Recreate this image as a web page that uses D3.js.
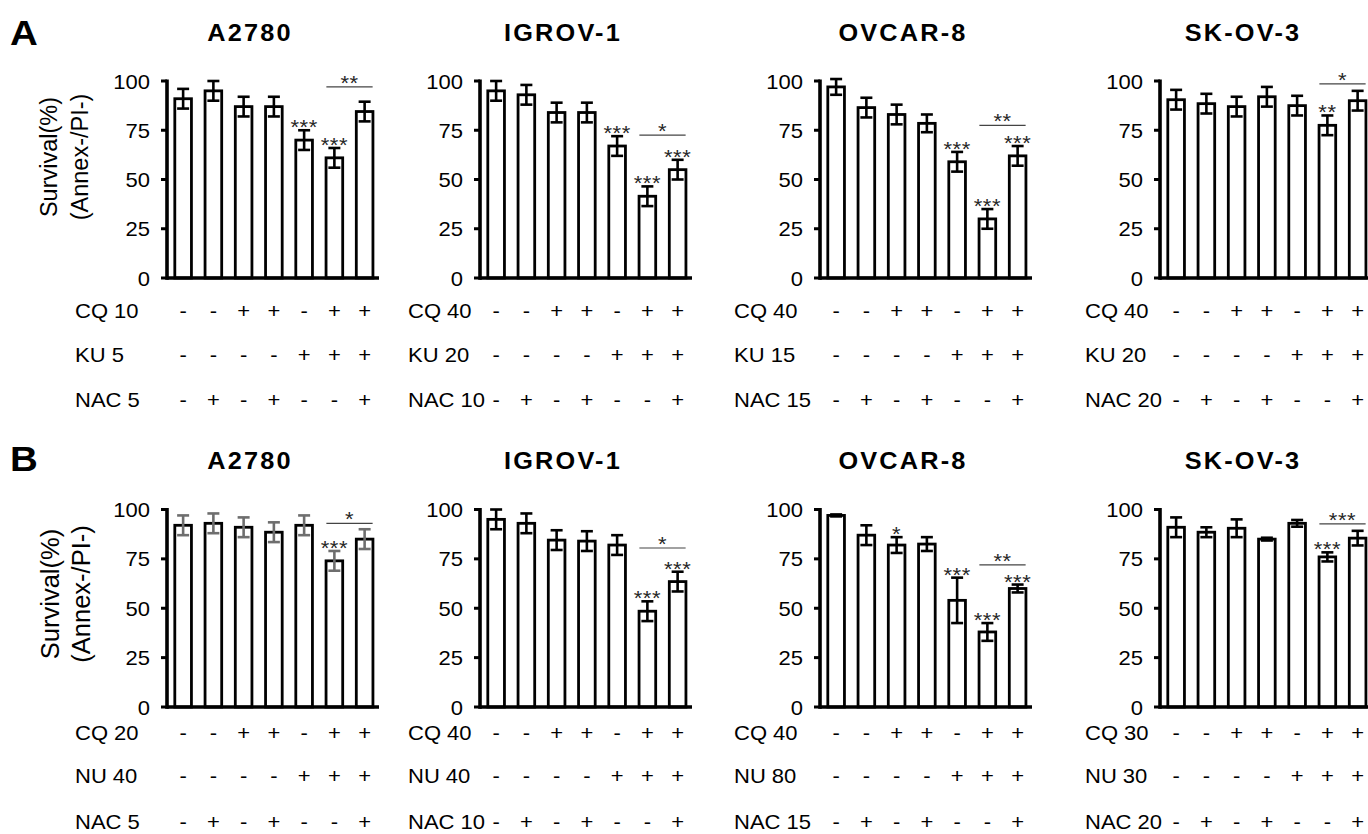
<!DOCTYPE html>
<html>
<head>
<meta charset="utf-8">
<script src="https://cdn.jsdelivr.net/npm/d3@7"></script>
<style>
  html, body { margin: 0; padding: 0; background: #fff; }
  svg { display: block; }
  text { font-family: "Liberation Sans", Arial, sans-serif; }
</style>
</head>
<body>
<svg id="fig" width="1368" height="834"></svg>
<script>
// ---- data ----------------------------------------------------------------
const cellLines = ["A2780", "IGROV-1", "OVCAR-8", "SK-OV-3"];
const panelLetters = ["A", "B"];
const yTicks = [0, 25, 50, 75, 100];

// treatment grid (same for every panel)
const cqPattern   = ["-", "-", "+", "+", "-", "+", "+"];
const inhPattern  = ["-", "-", "-", "-", "+", "+", "+"];
const nacPattern  = ["-", "+", "-", "+", "-", "-", "+"];

// A: CQ + KU-55933 (+/- NAC)
const rowLabelsA = [
  ["CQ 10", "KU 5", "NAC 5"],
  ["CQ 40", "KU 20", "NAC 10"],
  ["CQ 40", "KU 15", "NAC 15"],
  ["CQ 40", "KU 20", "NAC 20"]
];
const survivalA = [
  [91, 95, 87, 87, 70, 61, 84.5],
  [95, 93, 84, 84, 67, 41.5, 55],
  [97, 86.5, 83, 78.5, 59, 30, 62],
  [90.5, 88.5, 87, 92, 87.5, 77.5, 90]
];
const errorA = [
  [5, 5, 5, 5, 5, 5, 5],
  [5, 5, 5, 5, 5, 5, 5],
  [4, 5, 5, 4.5, 5, 5, 5],
  [5, 5, 5, 5, 5, 5, 5]
];
const starsA = [
  ["", "", "", "", "***", "***", ""],
  ["", "", "", "", "***", "***", "***"],
  ["", "", "", "", "***", "***", "***"],
  ["", "", "", "", "", "**", ""]
];
const bracketLevelA = [97, 72.5, 77.5, 98.5];
const bracketStarsA = ["**", "*", "**", "*"];

// B: CQ + NU7441 (+/- NAC)
const rowLabelsB = [
  ["CQ 20", "NU 40", "NAC 5"],
  ["CQ 40", "NU 40", "NAC 10"],
  ["CQ 40", "NU 80", "NAC 15"],
  ["CQ 30", "NU 30", "NAC 20"]
];
const survivalB = [
  [92, 93, 91, 88.5, 92, 74, 85],
  [95, 93, 84.5, 84, 82, 48.5, 63.5],
  [97, 87, 82, 82.5, 54, 38, 60],
  [91, 88.5, 90.5, 85, 93, 76, 85.5]
];
const errorB = [
  [5, 5, 5, 5, 5, 5, 5],
  [5, 5, 5, 5, 5, 5, 5],
  [0.5, 5, 4, 3.5, 11.5, 4.5, 2],
  [5, 2.5, 4.5, 0.7, 1.7, 2.3, 3.7]
];
const starsB = [
  ["", "", "", "", "", "***", ""],
  ["", "", "", "", "", "***", "***"],
  ["", "", "*", "", "***", "***", "***"],
  ["", "", "", "", "", "***", ""]
];
const bracketLevelB = [93, 80.5, 72, 92.7];
const bracketStarsB = ["*", "*", "**", "***"];

// ---- layout ----------------------------------------------------------------
const SX = 1.1;                       // horizontal text stretch of the figure
const axisX = [167, 480, 820, 1160];  // y-axis position of each column
const labelX = [75, 408, 734, 1085];  // left edge of treatment labels
const plotW = 212;
const rowLayout = [
  { y0: 278, y100: 81,  letterY: 45,  titleY: 41,  signY: [318, 362, 407], ylabY: 157, ylabX: [57, 88], ylabSize: 23.5 },
  { y0: 707, y100: 509.5, letterY: 471, titleY: 469, signY: [740, 783, 829], ylabY: 594, ylabX: [59, 90], ylabSize: 25.5 }
];
const errColor = [["#000", "#000", "#000", "#000"], ["#6e6e6e", "#000", "#000", "#000"]];

const rows = [
  { labels: rowLabelsA, vals: survivalA, errs: errorA, stars: starsA, bLevel: bracketLevelA, bStars: bracketStarsA },
  { labels: rowLabelsB, vals: survivalB, errs: errorB, stars: starsB, bLevel: bracketLevelB, bStars: bracketStarsB }
];
const patterns = [cqPattern, inhPattern, nacPattern];

const svg = d3.select("#fig");

function addText(parent, x, y, str, o = {}) {
  const t = parent.append("text")
    .attr("transform", `translate(${x},${y}) scale(${o.sx ?? SX},1)`)
    .attr("text-anchor", o.anchor || "start")
    .attr("font-size", o.size || 20)
    .attr("font-weight", o.weight || "normal")
    .attr("fill", o.fill || "#000")
    .text(str);
  if (o.spacing) t.attr("letter-spacing", o.spacing);
  return t;
}

const starOpts = { size: 20, anchor: "middle", fill: "#262626", spacing: 0.5 };

rows.forEach((row, r) => {
  const L = rowLayout[r];
  const rowG = svg.append("g");

  // panel letter
  addText(rowG, 10, L.letterY, panelLetters[r], { size: 35, weight: "bold" });

  // y-axis title (first column only)
  const yl = rowG.append("g");
  ["Survival(%)", "(Annex-/PI-)"].forEach((s, k) => {
    yl.append("text")
      .attr("transform", `translate(${L.ylabX[k]},${L.ylabY}) rotate(-90)`)
      .attr("text-anchor", "middle")
      .attr("font-size", L.ylabSize)
      .text(s);
  });

  cellLines.forEach((name, c) => {
    const x0 = axisX[c];
    const g = rowG.append("g");
    const y = d3.scaleLinear().domain([0, 100]).range([L.y0, L.y100]);
    const x = d3.scaleBand().domain(d3.range(7))
      .range([x0 + 1, x0 + 1 + 211.75]).paddingInner(0.45).paddingOuter(0.225);
    const cx = i => x(i) + x.bandwidth() / 2;
    const vals = row.vals[c], errs = row.errs[c];

    // title
    addText(g, x0 + 83, L.titleY, name, { size: 23, weight: "bold", anchor: "middle", spacing: 2 });

    // bars
    g.selectAll("rect.bar").data(vals).join("rect")
      .attr("class", "bar")
      .attr("x", (d, i) => x(i))
      .attr("width", x.bandwidth())
      .attr("y", d => y(d))
      .attr("height", d => y(0) - y(d))
      .attr("fill", "#fff")
      .attr("stroke", "#000")
      .attr("stroke-width", 2.8);

    // error bars
    const eg = g.append("g").attr("stroke", errColor[r][c]).attr("stroke-width", 2.6).attr("fill", "none");
    vals.forEach((v, i) => {
      const e = errs[i], xc = cx(i), cap = 6;
      eg.append("line").attr("x1", xc).attr("x2", xc).attr("y1", y(v - e)).attr("y2", y(v + e));
      eg.append("line").attr("x1", xc - cap).attr("x2", xc + cap).attr("y1", y(v + e)).attr("y2", y(v + e));
      eg.append("line").attr("x1", xc - cap).attr("x2", xc + cap).attr("y1", y(v - e)).attr("y2", y(v - e));
    });

    // significance stars over bars
    vals.forEach((v, i) => {
      const s = row.stars[c][i];
      if (!s) return;
      addText(g, cx(i), y(v + errs[i]) + 4, s, starOpts);
    });

    // comparison bracket between the last two bars
    const by = y(row.bLevel[c]);
    g.append("line")
      .attr("x1", cx(5) - 8).attr("x2", cx(6) + 8)
      .attr("y1", by).attr("y2", by)
      .attr("stroke", "#444").attr("stroke-width", 1.2);
    addText(g, (cx(5) + cx(6)) / 2, by + 3, row.bStars[c], starOpts);

    // axes
    const ax = g.append("g").attr("stroke", "#000").attr("fill", "none");
    ax.append("line").attr("x1", x0).attr("x2", x0).attr("y1", y(100) - 1.5).attr("y2", y(0) + 1.8)
      .attr("stroke-width", 3.6);
    ax.append("line").attr("x1", x0).attr("x2", x0 + plotW).attr("y1", y(0)).attr("y2", y(0))
      .attr("stroke-width", 3.6);
    yTicks.forEach(t => {
      ax.append("line").attr("x1", x0 - 6).attr("x2", x0).attr("y1", y(t)).attr("y2", y(t))
        .attr("stroke-width", 3);
      addText(g, x0 - 17, y(t) + 7.5, String(t), { size: 20, anchor: "end" });
    });

    // treatment table
    patterns.forEach((pat, k) => {
      addText(g, labelX[c], L.signY[k], row.labels[c][k], { size: 20 });
      pat.forEach((s, i) => addText(g, cx(i), L.signY[k], s, { size: 20, anchor: "middle" }));
    });
  });
});
</script>
</body>
</html>
